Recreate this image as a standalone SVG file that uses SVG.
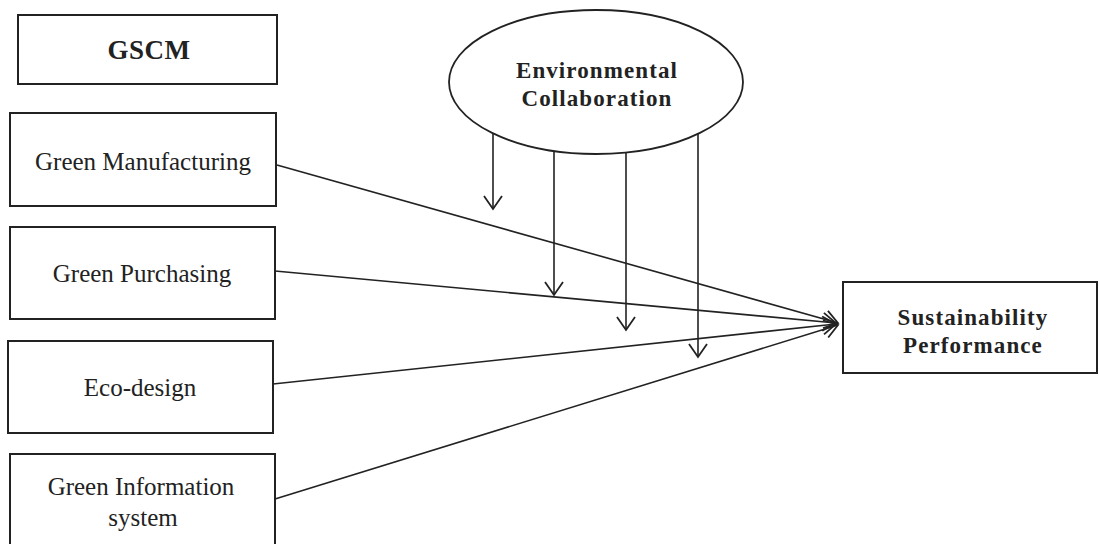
<svg xmlns="http://www.w3.org/2000/svg" width="1099" height="544" viewBox="0 0 1099 544">
<defs>
<style>
.box{fill:#fff;stroke:#222;stroke-width:2}
.t{font-family:"Liberation Serif","Times New Roman",serif;font-size:25px;fill:#222;text-anchor:middle}
.b{font-family:"Liberation Serif","Times New Roman",serif;font-weight:bold;font-size:23px;fill:#222;text-anchor:middle;letter-spacing:1.1px}
.c{fill:none;stroke:#222;stroke-width:1.6}
</style>
<marker id="ah" markerUnits="userSpaceOnUse" markerWidth="30" markerHeight="30" viewBox="-15 -15 30 30" refX="0" refY="0" orient="auto">
<path d="M-13,-9 L0,0 L-13,9" fill="none" stroke="#222" stroke-width="1.8"/>
</marker>
</defs>
<rect width="1099" height="544" fill="#fff"/>
<g id="gscm">
<rect class="box" x="18" y="15" width="259" height="69"/>
<text class="b" x="149" y="59" style="font-size:27px;letter-spacing:0.5px">GSCM</text>
</g>
<g id="green-manufacturing">
<rect class="box" x="10" y="113" width="266" height="93"/>
<text class="t" x="143" y="170">Green Manufacturing</text>
</g>
<g id="green-purchasing">
<rect class="box" x="10" y="227" width="265" height="92"/>
<text class="t" x="142" y="282">Green Purchasing</text>
</g>
<g id="eco-design">
<rect class="box" x="8" y="341" width="265" height="92"/>
<text class="t" x="140" y="396">Eco-design</text>
</g>
<g id="green-information-system">
<rect class="box" x="10" y="454" width="265" height="100"/>
<text class="t" x="141" y="495">Green Information</text>
<text class="t" x="143" y="526">system</text>
</g>
<g id="environmental-collaboration">
<ellipse cx="596" cy="82" rx="147" ry="72" fill="#fff" stroke="#222" stroke-width="1.8"/>
<text class="b" x="597" y="78">Environmental</text>
<text class="b" x="597" y="106">Collaboration</text>
</g>
<g id="sustainability-performance">
<rect class="box" x="843" y="282" width="254" height="91"/>
<text class="b" x="973" y="325">Sustainability</text>
<text class="b" x="973" y="353">Performance</text>
</g>
<g id="connectors">
<line class="c" x1="277" y1="165" x2="838" y2="323" marker-end="url(#ah)"/>
<line class="c" x1="275" y1="271" x2="836" y2="323" marker-end="url(#ah)"/>
<line class="c" x1="273" y1="384" x2="836" y2="324" marker-end="url(#ah)"/>
<line class="c" x1="275" y1="499" x2="838" y2="325" marker-end="url(#ah)"/>
<line class="c" x1="493" y1="133" x2="493" y2="209" marker-end="url(#ah)"/>
<line class="c" x1="554" y1="152" x2="554" y2="295" marker-end="url(#ah)"/>
<line class="c" x1="626" y1="153" x2="626" y2="330" marker-end="url(#ah)"/>
<line class="c" x1="698" y1="133" x2="698" y2="357" marker-end="url(#ah)"/>
</g>
</svg>
